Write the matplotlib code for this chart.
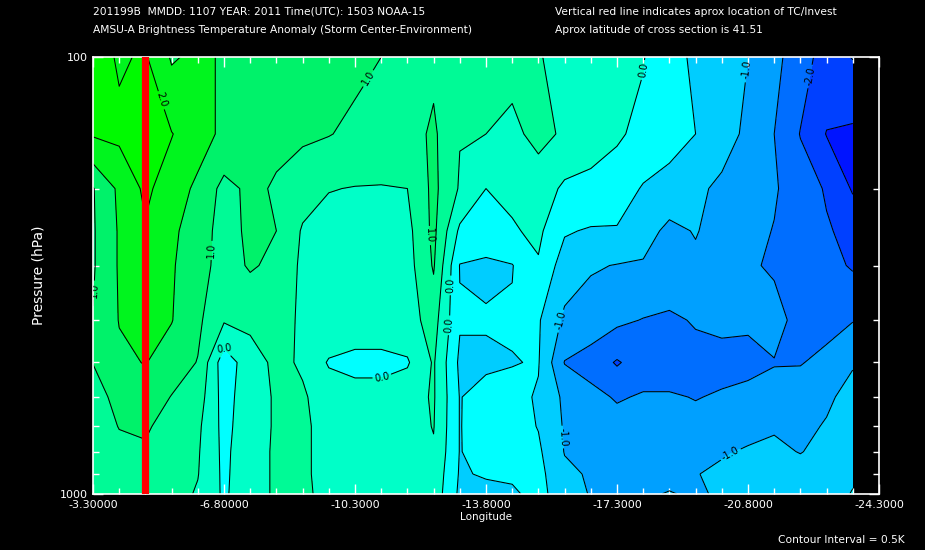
import numpy as np
import matplotlib
matplotlib.use("Agg")
import matplotlib.pyplot as plt
from matplotlib.colors import ListedColormap, BoundaryNorm
from matplotlib.ticker import FixedLocator, NullFormatter

# ---------------- data ----------------
lons = [-3.3 - 0.7 * i for i in range(30)]          # grid longitudes
pres = [100, 150, 200, 250, 300, 400, 500, 600, 700, 800, 900, 1000]

t100 = [2.2, 1.95, 2.05, 1.45, 1.6, 1.45, 1.4, 1.35, 1.3, 1.2, 1.1, 1.0, 0.95, 0.9, 0.8,
        0.7, 0.6, 0.52, 0.4, 0.3, 0.15, 0.02, -0.3, -0.6, -0.8, -1.0, -1.35, -1.8, -2.2, -1.98]
t150 = [2.05, 2.1, 2.2, 2.02, 1.7, 1.4, 1.15, 1.1, 1.08, 1.02, 0.9, 0.85, 0.8, 1.08, 0.52,
        0.5, 0.42, 0.6, 0.45, 0.15, 0.05, -0.1, -0.3, -0.5, -0.8, -1.1, -1.5, -2.02, -2.52, -2.6]
t200 = [0.97, 1.6, 2.1, 1.75, 1.4, 0.85, 1.1, 0.95, 0.7, 0.52, 0.48, 0.47, 0.5, 1.12, 0.45,
        0.0, 0.1, 0.3, -0.1, -0.1, -0.2, -0.55, -0.7, -0.9, -1.1, -1.25, -1.45, -1.75, -2.05, -2.55]
t250 = [0.95, 1.55, 1.95, 1.6, 1.25, 0.8, 1.1, 1.0, 0.45, 0.3, 0.3, 0.3, 0.35, 1.12, -0.1,
        -0.2, -0.05, 0.1, -0.45, -0.55, -0.55, -0.8, -1.12, -0.97, -1.2, -1.35, -1.52, -1.7, -1.95, -2.15]
t300 = [0.95, 1.55, 1.8, 1.55, 1.2, 0.8, 1.05, 0.9, 0.4, 0.2, 0.15, 0.15, 0.3, 1.05, -0.52,
        -0.6, -0.52, -0.05, -0.75, -0.95, -1.02, -1.05, -1.1, -1.1, -1.25, -1.45, -1.55, -1.75, -1.85, -2.05]
t400 = [1.02, 1.52, 1.7, 1.52, 1.1, 0.55, 0.6, 0.75, 0.4, 0.4, 0.4, 0.4, 0.3, 0.7, -0.45,
        -0.45, -0.45, -0.45, -1.1, -1.25, -1.4, -1.52, -1.6, -1.45, -1.4, -1.45, -1.35, -1.65, -1.62, -1.52]
t500 = [1.01, 1.4, 1.52, 1.25, 0.98, -0.3, 0.3, 0.6, 0.45, -0.05, -0.2, -0.2, -0.05, 0.55, -0.6,
        -0.6, -0.52, -0.47, -1.52, -1.7, -2.05, -1.75, -1.75, -1.7, -1.65, -1.6, -1.52, -1.52, -1.4, -1.05]
t600 = [0.8, 1.15, 1.3, 0.98, 0.75, -0.2, 0.3, 0.55, 0.55, 0.3, 0.27, 0.27, 0.3, 0.55, -0.52,
        -0.3, -0.35, -0.55, -1.1, -1.35, -1.55, -1.45, -1.45, -1.52, -1.45, -1.4, -1.35, -1.3, -1.1, -0.8]
t700 = [0.7, 1.02, 1.05, 0.85, 0.6, -0.15, 0.3, 0.55, 0.6, 0.3, 0.35, 0.35, 0.3, 0.52, -0.52,
        -0.25, -0.3, -0.52, -1.05, -1.2, -1.3, -1.3, -1.3, -1.35, -1.3, -1.15, -1.05, -1.15, -0.95, -0.75]
t800 = [0.7, 0.85, 0.95, 0.8, 0.55, -0.12, 0.35, 0.55, 0.6, 0.3, 0.35, 0.35, 0.3, 0.45, -0.52,
        -0.3, -0.3, -0.42, -1.02, -1.15, -1.2, -1.2, -1.2, -1.15, -1.05, -0.95, -0.9, -1.02, -0.85, -0.7]
t900 = [0.7, 0.8, 0.9, 0.75, 0.52, -0.1, 0.35, 0.55, 0.6, 0.3, 0.3, 0.3, 0.25, 0.35, -0.55,
        -0.45, -0.4, -0.35, -0.9, -1.05, -1.1, -1.1, -1.1, -1.02, -0.9, -0.85, -0.8, -0.8, -0.7, -0.55]
t1000 = [0.7, 0.75, 0.85, 0.7, 0.45, -0.08, 0.35, 0.55, 0.6, 0.35, 0.3, 0.3, 0.25, 0.3, -0.6,
         -0.65, -0.6, -0.3, -0.85, -1.02, -1.05, -1.05, -0.98, -1.05, -0.95, -0.85, -0.8, -0.75, -0.65, -0.48]

red_line_lon = -4.7
xtick_vals = [-3.3, -6.8, -10.3, -13.8, -17.3, -20.8, -24.3]
xtick_labels = ["-3.30000", "-6.80000", "-10.3000", "-13.8000", "-17.3000", "-20.8000", "-24.3000"]
ytick_vals = [100, 1000]
ytick_labels = ["100", "1000"]

title1 = "201199B  MMDD: 1107 YEAR: 2011 Time(UTC): 1503 NOAA-15"
title2 = "AMSU-A Brightness Temperature Anomaly (Storm Center-Environment)"
note1 = "Vertical red line indicates aprox location of TC/Invest"
note2 = "Aprox latitude of cross section is 41.51"
note3 = "Contour Interval = 0.5K"

# ---------------- figure ----------------
T = np.array([t100, t150, t200, t250, t300, t400, t500, t600, t700, t800, t900, t1000])
X, P = np.meshgrid(np.array(lons), np.array(pres))

fill_levels = [-10, -2.5, -2.0, -1.5, -1.0, -0.5, 0.0, 0.5, 1.0, 1.5, 2.0, 10]
fill_colors = ["#0014ff", "#0040ff", "#006eff", "#00a0ff", "#00cdff", "#00ffff",
               "#00ffc8", "#00fa96", "#00f26a", "#00f51e", "#00fa00"]
half_levels = [-2.5, -1.5, -0.5, 0.5, 1.5, 2.5]
int_levels = [-3.0, -2.0, -1.0, 0.0, 1.0, 2.0, 3.0]

fig = plt.figure(figsize=(9.25, 5.5), dpi=100, facecolor="black")
ax = fig.add_axes([93 / 925, 1 - 494 / 550, (879 - 93) / 925, (494 - 57) / 550])
ax.set_facecolor("black")

cmap = ListedColormap(fill_colors)
norm = BoundaryNorm(fill_levels, cmap.N)
ax.contourf(X, P, T, levels=fill_levels, cmap=cmap, norm=norm)
ax.contour(X, P, T, levels=half_levels, colors="black", linewidths=0.75, linestyles="solid")
cs = ax.contour(X, P, T, levels=int_levels, colors="black", linewidths=0.75, linestyles="solid")

ax.axvline(red_line_lon, color="#ff0000", linewidth=5.2, zorder=5)

ax.set_yscale("log")
ax.set_ylim(1000, 100)
ax.set_xlim(-3.3, -24.3)

ax.xaxis.set_major_locator(FixedLocator(xtick_vals))
ax.set_xticklabels(xtick_labels)
ax.xaxis.set_minor_locator(FixedLocator([-3.3 - 0.7 * k for k in range(31)]))
ax.yaxis.set_major_locator(FixedLocator(ytick_vals))
ax.set_yticklabels(ytick_labels)
ax.yaxis.set_minor_locator(FixedLocator([200, 300, 400, 500, 600, 700, 800, 900]))
ax.yaxis.set_minor_formatter(NullFormatter())

ax.tick_params(which="both", direction="in", colors="white", top=True, right=True,
               labelsize=8, width=1)
ax.tick_params(which="major", length=7, pad=4)
ax.tick_params(which="minor", length=4)
for s in ax.spines.values():
    s.set_color("white")
    s.set_linewidth(1.2)

# contour labels (integer contours) placed near where they appear
def px2data(x, y):
    lon = -3.3 - (x - 93) / 786 * 21.0
    p = 100 * 10 ** ((y - 57) / 437)
    return lon, p

label_px = [(160, 100), (368, 78), (205, 250), (97, 290), (430, 235), (452, 285),
            (414, 322), (225, 345), (383, 380), (558, 320), (515, 440), (648, 70),
            (752, 70), (806, 75), (737, 465)]
for (x, y) in label_px:
    try:
        ax.clabel(cs, manual=[px2data(x, y)], fmt="%.1f", fontsize=7,
                  inline=True, inline_spacing=2, colors="black")
    except Exception:
        pass

ax.set_xlabel("Longitude", color="white", fontsize=7.5, labelpad=2)
ax.set_ylabel("Pressure (hPa)", color="white", fontsize=10)
ax.yaxis.set_label_coords((46 - 93) / 786, 0.5)

fig.text(93 / 925, 1 - 12 / 550, title1, color="white", fontsize=7.7, va="center", ha="left")
fig.text(93 / 925, 1 - 30 / 550, title2, color="white", fontsize=7.7, va="center", ha="left")
fig.text(555 / 925, 1 - 12 / 550, note1, color="white", fontsize=7.7, va="center", ha="left")
fig.text(555 / 925, 1 - 30 / 550, note2, color="white", fontsize=7.7, va="center", ha="left")
fig.text(778 / 925, 1 - 540 / 550, note3, color="white", fontsize=7.7, va="center", ha="left")

fig.savefig("out.png", dpi=100, facecolor="black")
